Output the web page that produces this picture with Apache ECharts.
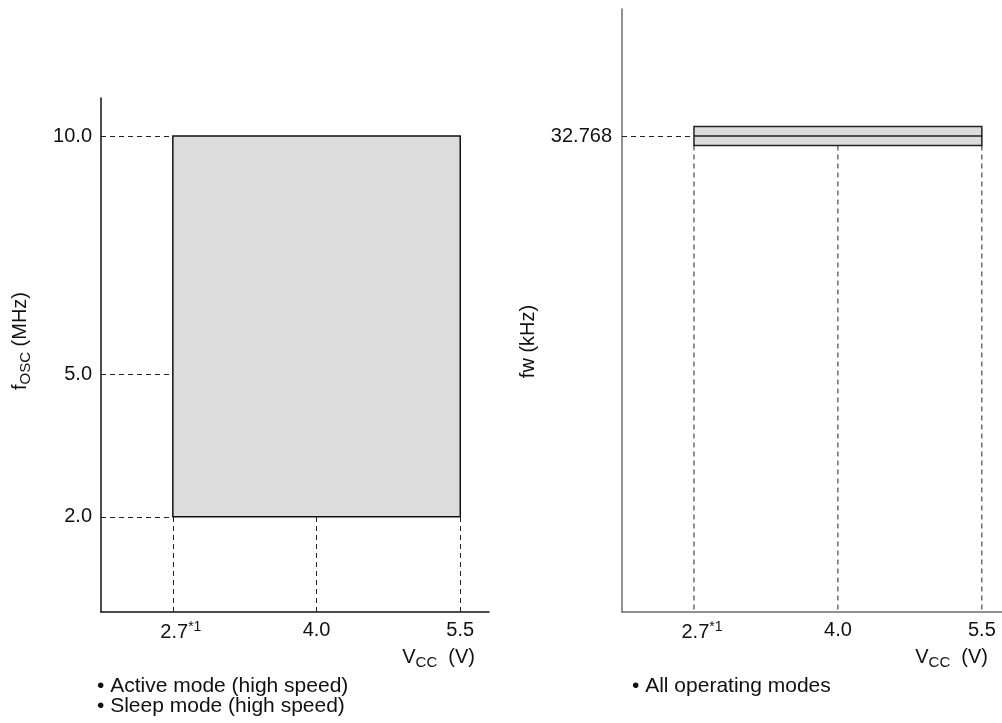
<!DOCTYPE html>
<html>
<head>
<meta charset="utf-8">
<script src="https://cdn.jsdelivr.net/npm/echarts@6/dist/echarts.min.js"></script>
<style>
  html, body { margin: 0; padding: 0; background: #fff; }
  #chart { width: 1002px; height: 723px; }
</style>
</head>
<body>
<div id="chart"></div>
<script>
// voltage ticks are drawn on evenly spaced slots, as in the datasheet figure
const vccSlots = [1, 2, 3];
const vccTicks = ['2.7', '4.0', '5.5'];
const vccNotes = ['*1', '', ''];

// left panel: main clock range
const foscTicks = [2.0, 5.0, 10.0];
const foscArea = [[1, 3, 2.0, 10.0]]; // slotFrom, slotTo, low, high (MHz)

// right panel: sub clock
const fwTicks = [32.768];
const fwBand = [[1, 3, 32.768]]; // slotFrom, slotTo, value (kHz)

const notesLeft = ['• Active mode (high speed)', '• Sleep mode (high speed)'];
const notesRight = ['• All operating modes'];

const font = 'Liberation Sans, Arial, Helvetica, sans-serif';
const xMin = 0.5;
const dash = [5, 4];
const fs = 20;

const tickRich = {
  v: { fontSize: fs, color: '#111', fontFamily: font },
  sup: { fontSize: 14, color: '#111', fontFamily: font, padding: [0, 0, 10, 0] },
  pad: { width: 16 }
};
const subRich = { sub: { fontSize: 15, fontFamily: font, color: '#111', padding: [10, 0, 0, 0] } };

function vccLabel(val) {
  const i = vccSlots.indexOf(Math.round(val));
  if (i < 0) return '';
  if (vccNotes[i]) return '{pad|}{v|' + vccTicks[i] + '}{sup|' + vccNotes[i] + '}';
  return '{v|' + vccTicks[i] + '}';
}

function xAxisFor(gridIndex, max, lineColor) {
  return {
    type: 'value', gridIndex, min: xMin, max,
    name: 'V{sub|CC}  (V)',
    nameLocation: 'end', nameGap: -14,
    nameTextStyle: {
      align: 'right', verticalAlign: 'top', padding: [33, 0, 0, 0],
      fontSize: fs, color: '#111', fontFamily: font, rich: subRich
    },
    axisLine: { show: true, onZero: false, lineStyle: { color: lineColor, width: 1.5 } },
    axisTick: { show: false },
    splitLine: { show: false },
    axisLabel: {
      customValues: vccSlots, margin: 8,
      formatter: vccLabel, rich: tickRich
    }
  };
}

function dashedSegments(pairs) {
  return pairs.map(p => [{ coord: p[0] }, { coord: p[1] }]);
}

// dashed guide lines, left panel
const leftGuides = dashedSegments([
  ...foscTicks.map(v => [[xMin, v], [foscArea[0][0], v]]),
  ...vccSlots.map(s => [[s, 0], [s, foscArea[0][2]]])
]);

// dashed guide lines, right panel
const bandHalf = 9.5;
const rightGuides = dashedSegments([
  ...fwTicks.map(v => [[xMin, v], [fwBand[0][0], v]])
]);

const option = {
  animation: false,
  backgroundColor: '#fff',
  grid: [
    { left: 101, top: 98, width: 388, height: 514 },
    { left: 622, top: 9, width: 380, height: 603 }
  ],
  xAxis: [
    xAxisFor(0, 3.2, '#111'),
    xAxisFor(1, 3.14, '#6e6e6e')
  ],
  yAxis: [
    {
      type: 'value', gridIndex: 0, min: 0, max: 10.8,
      name: 'f{sub|OSC} (MHz)', nameLocation: 'middle', nameGap: 68,
      nameTextStyle: {
        fontSize: fs, color: '#111', fontFamily: font, padding: [0, 0, 0, 28], rich: subRich
      },
      axisLine: { show: true, onZero: false, lineStyle: { color: '#111', width: 1.5 } },
      axisTick: { show: false },
      splitLine: { show: false },
      axisLabel: {
        customValues: foscTicks, margin: 9, fontSize: fs, color: '#111', fontFamily: font,
        formatter: v => v.toFixed(1)
      }
    },
    {
      type: 'value', gridIndex: 1, min: 0, max: 41.51,
      name: 'fw (kHz)', nameLocation: 'middle', nameGap: 84,
      nameTextStyle: { fontSize: fs, color: '#111', fontFamily: font, padding: [0, 62, 0, 0] },
      axisLine: { show: true, onZero: false, lineStyle: { color: '#6e6e6e', width: 1.5 } },
      axisTick: { show: false },
      splitLine: { show: false },
      axisLabel: {
        customValues: fwTicks, margin: 10, fontSize: fs, color: '#111', fontFamily: font,
        formatter: v => v.toFixed(3)
      }
    }
  ],
  graphic: [
    {
      type: 'text', left: 97, top: 676,
      style: { text: notesLeft.join('\n'), fontSize: 21, lineHeight: 20, fill: '#111', fontFamily: font }
    },
    {
      type: 'text', left: 632, top: 676,
      style: { text: notesRight.join('\n'), fontSize: 21, lineHeight: 20, fill: '#111', fontFamily: font }
    }
  ],
  series: [
    {
      type: 'custom', xAxisIndex: 0, yAxisIndex: 0, silent: true,
      data: foscArea,
      renderItem: (params, api) => {
        const a = api.coord([api.value(0), api.value(3)]);
        const b = api.coord([api.value(1), api.value(2)]);
        return {
          type: 'rect',
          shape: { x: a[0], y: a[1], width: b[0] - a[0], height: b[1] - a[1] },
          style: { fill: '#dcdcdc', stroke: '#111', lineWidth: 1.5 }
        };
      },
      z: 3
    },
    {
      type: 'line', xAxisIndex: 0, yAxisIndex: 0, data: [], silent: true,
      markLine: {
        silent: true, symbol: 'none', animation: false, label: { show: false },
        lineStyle: { color: '#222', type: dash, width: 1 },
        data: leftGuides
      },
      z: 2
    },
    {
      type: 'custom', xAxisIndex: 1, yAxisIndex: 1, silent: true,
      data: fwBand,
      renderItem: (params, api) => {
        const a = api.coord([api.value(0), api.value(2)]);
        const b = api.coord([api.value(1), api.value(2)]);
        const bottom = api.coord([api.value(0), 0]);
        const guides = vccSlots.map(s => {
          const p = api.coord([s, api.value(2)]);
          return {
            type: 'line',
            shape: { x1: p[0], y1: p[1] + bandHalf, x2: p[0], y2: bottom[1] },
            style: { stroke: '#222', lineWidth: 1, lineDash: dash }
          };
        });
        return {
          type: 'group',
          children: guides.concat([
            {
              type: 'rect',
              shape: { x: a[0], y: a[1] - bandHalf, width: b[0] - a[0], height: bandHalf * 2 },
              style: { fill: '#dcdcdc', stroke: '#222', lineWidth: 1.5 }
            },
            {
              type: 'line',
              shape: { x1: a[0], y1: a[1], x2: b[0], y2: b[1] },
              style: { stroke: '#222', lineWidth: 1.5 }
            }
          ])
        };
      },
      z: 3
    },
    {
      type: 'line', xAxisIndex: 1, yAxisIndex: 1, data: [], silent: true,
      markLine: {
        silent: true, symbol: 'none', animation: false, label: { show: false },
        lineStyle: { color: '#222', type: dash, width: 1 },
        data: rightGuides
      },
      z: 2
    }
  ]
};

const chart = echarts.init(document.getElementById('chart'));
chart.setOption(option);
window.addEventListener('resize', () => chart.resize());
</script>
</body>
</html>
